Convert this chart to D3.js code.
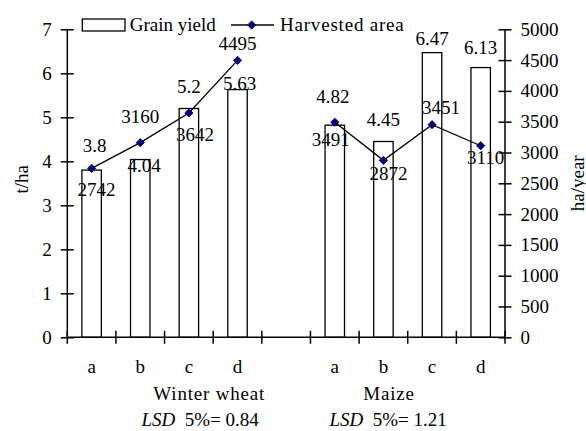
<!DOCTYPE html>
<html>
<head>
<meta charset="utf-8">
<script src="https://cdn.jsdelivr.net/npm/d3@7"></script>
<style>
  body { margin: 0; background: #fff; }
  svg, svg text { font-family: "Liberation Serif", "Times New Roman", serif; fill: #000; }
</style>
</head>
<body>
<div id="chart"></div>
<script>
// categories: two crops x four treatments, with an empty slot between the groups
const crops = ["Winter wheat", "Maize"];
const treatments = ["a", "b", "c", "d"];
const lsd = ["0.84", "1.21"];

// grain yield (t/ha) and harvested area (ha/year)
const wheatYield = [3.8, 4.04, 5.2, 5.63];
const maizeYield = [4.82, 4.45, 6.47, 6.13];
const wheatArea = [2742, 3160, 3642, 4495];
const maizeArea = [3491, 2872, 3451, 3110];

const leftTicks = [0, 1, 2, 3, 4, 5, 6, 7];
const rightTicks = [0, 500, 1000, 1500, 2000, 2500, 3000, 3500, 4000, 4500, 5000];

// hand placed label nudges, as in the original figure [dx, dy]
const yieldLabelShift = [[3, -18], [4, 12], [0, -15], [2, 0], [-2, -22], [0, -15], [0, -8], [0, -14]];
const areaLabelShift = [[5, 28], [0, -20], [6, 28], [0, -10], [-4, 24], [5, 20], [9, -11], [5, 18]];

const W = 586, H = 431;
const FONT = "Liberation Serif";
const margin = { top: 29.3, right: 81, bottom: 93.7, left: 67.3 };
const width = W - margin.left - margin.right,
      height = H - margin.top - margin.bottom;

// flatten into rows
const rows = [];
crops.forEach((crop, ci) => {
  const ys = ci === 0 ? wheatYield : maizeYield;
  const as = ci === 0 ? wheatArea : maizeArea;
  treatments.forEach((t, ti) => {
    rows.push({ key: ci + "-" + t, crop: ci, t: t, yield: ys[ti], area: as[ti] });
  });
});
const keys = rows.slice(0, 4).map(d => d.key).concat(["gap"], rows.slice(4).map(d => d.key));

const svg = d3.select("#chart").append("svg")
    .attr("width", W)
    .attr("height", H)
    .attr("font-family", FONT)
  .append("g")
    .attr("transform", `translate(${margin.left},${margin.top})`);

const x = d3.scaleBand().domain(keys).range([0, width]).paddingInner(0).paddingOuter(0);
const yL = d3.scaleLinear().domain([0, 7]).range([height, 0]);
const yR = d3.scaleLinear().domain([0, 5000]).range([height, 0]);
const barW = x.bandwidth() * 0.4;
const cx = d => x(d.key) + x.bandwidth() / 2;

// bars
svg.selectAll(".bar")
  .data(rows)
  .enter().append("rect")
    .attr("class", "bar")
    .attr("x", d => cx(d) - barW / 2)
    .attr("y", d => yL(d.yield))
    .attr("width", barW)
    .attr("height", d => height - yL(d.yield))
    .attr("fill", "#fff")
    .attr("stroke", "#000")
    .attr("stroke-width", 1.3);

// area lines, one per crop
const line = d3.line().x(cx).y(d => yR(d.area));
[0, 1].forEach(ci => {
  svg.append("path")
    .datum(rows.filter(d => d.crop === ci))
    .attr("d", line)
    .attr("fill", "none")
    .attr("stroke", "#000")
    .attr("stroke-width", 1.3);
});

const diamond = d3.symbol().type(d3.symbolDiamond2).size(44);
svg.selectAll(".pt")
  .data(rows)
  .enter().append("path")
    .attr("class", "pt")
    .attr("d", diamond)
    .attr("transform", d => `translate(${cx(d)},${yR(d.area)})`)
    .attr("fill", "#000080")
    .attr("stroke", "#000033")
    .attr("stroke-width", 0.8);

// value labels
svg.selectAll(".ylab")
  .data(rows)
  .enter().append("text")
    .attr("x", (d, i) => cx(d) + yieldLabelShift[i][0])
    .attr("y", (d, i) => yL(d.yield) + yieldLabelShift[i][1])
    .attr("text-anchor", "middle")
    .style("font-size", "19px")
    .text(d => d.yield);

svg.selectAll(".alab")
  .data(rows)
  .enter().append("text")
    .attr("x", (d, i) => cx(d) + areaLabelShift[i][0])
    .attr("y", (d, i) => yR(d.area) + areaLabelShift[i][1])
    .attr("text-anchor", "middle")
    .style("font-size", "19px")
    .text(d => d.area);

// axes
const axL = svg.append("g")
    .call(d3.axisLeft(yL).tickValues(leftTicks).tickSize(6.5).tickPadding(9).tickFormat(d3.format("d")));
axL.selectAll(".tick line").attr("x1", 6.5);

const axR = svg.append("g")
    .attr("transform", `translate(${width},0)`)
    .call(d3.axisRight(yR).tickValues(rightTicks).tickSize(6.5).tickPadding(9).tickFormat(d3.format("d")));
axR.selectAll(".tick line").attr("x1", -6.5);

const axB = svg.append("g")
    .attr("transform", `translate(0,${height})`)
    .call(d3.axisBottom(x).tickSize(0).tickPadding(22)
      .tickFormat(k => k === "gap" ? "" : k.split("-")[1]));

// tick marks at category boundaries
svg.append("g").selectAll("line")
  .data(keys.map(k => x(k)).concat([width]))
  .enter().append("line")
    .attr("x1", d => d).attr("x2", d => d)
    .attr("y1", height - 6.5).attr("y2", height + 6.5)
    .attr("stroke", "#000")
    .attr("stroke-width", 1.5);

[axL, axR, axB].forEach(g => {
  g.attr("font-family", FONT).attr("font-size", 19);
  g.select(".domain").attr("stroke", "#000").attr("stroke-width", 1.5);
  g.selectAll(".tick line").attr("stroke", "#000").attr("stroke-width", 1.5);
  g.selectAll("text").style("font-family", FONT).style("font-size", "19px");
});
axL.select(".domain").attr("d", `M0,0V${height}`);
axR.select(".domain").attr("d", `M0,0V${height}`);
axB.select(".domain").attr("d", `M0,0H${width}`);

// axis titles
svg.append("text")
    .attr("transform", `translate(${-39},${height / 2 - 4}) rotate(-90)`)
    .attr("text-anchor", "middle")
    .style("font-size", "19px")
    .text("t/ha");

svg.append("text")
    .attr("transform", `translate(${width + 79},${height / 2}) rotate(-90)`)
    .attr("text-anchor", "middle")
    .style("font-size", "19px")
    .text("ha/year");

// crop group labels and LSD
const groupX = [x("0-d") - 4, x("1-b") + 30];
crops.forEach((c, i) => {
  svg.append("text")
      .attr("x", groupX[i])
      .attr("y", height + 63)
      .attr("text-anchor", "middle")
      .style("font-size", "19px")
      .style("letter-spacing", "0.8px")
      .text(c);
  const t = svg.append("text")
      .attr("x", groupX[i] - (i === 0 ? 9 : 1))
      .attr("y", height + 89)
      .attr("text-anchor", "middle")
      .style("font-size", "19px");
  t.append("tspan").style("font-style", "italic").text("LSD");
  t.append("tspan").text("\u00a0 5%= " + lsd[i]);
});

// legend
const lg = svg.append("g").attr("transform", `translate(${82.3 - margin.left},${-margin.top})`);
lg.append("rect")
    .attr("x", 0).attr("y", 19).attr("width", 42.7).attr("height", 12)
    .attr("fill", "#fff").attr("stroke", "#000").attr("stroke-width", 1.3);
lg.append("text").attr("x", 47.5).attr("y", 31).style("font-size", "19px").text("Grain yield");
lg.append("line")
    .attr("x1", 148.7).attr("x2", 191.7).attr("y1", 25).attr("y2", 25)
    .attr("stroke", "#000").attr("stroke-width", 1.3);
lg.append("path")
    .attr("d", diamond)
    .attr("transform", "translate(169.4,25)")
    .attr("fill", "#000080").attr("stroke", "#000033").attr("stroke-width", 0.8);
lg.append("text").attr("x", 197.7).attr("y", 31)
    .style("font-size", "19px").style("letter-spacing", "0.8px")
    .text("Harvested area");
</script>
</body>
</html>
